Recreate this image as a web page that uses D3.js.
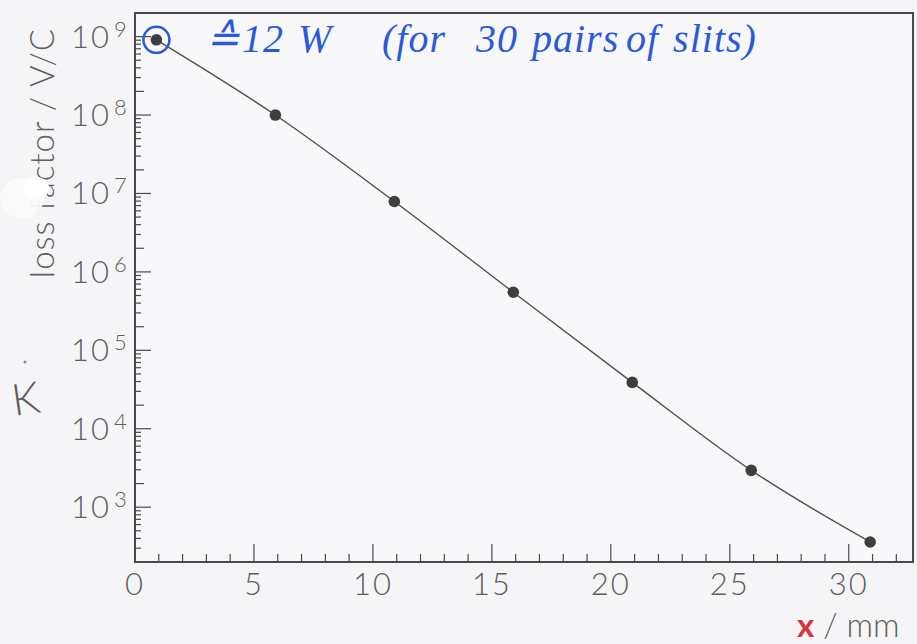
<!DOCTYPE html>
<html>
<head>
<meta charset="utf-8">
<script src="https://cdn.jsdelivr.net/npm/d3@7"></script>
<style>
  body { margin: 0; background: #f5f4f7; }
  svg { display: block; }
  .lbl { font-family: Lato, "Open Sans", sans-serif; font-weight: 300; fill: #5e5e5e; }
  .hand { font-family: "Liberation Serif", serif; font-style: italic; }
</style>
</head>
<body>
<div id="chart"></div>
<script>
  // measured points (x in mm, loss factor in V/C)
  var xs = [0.9, 5.9, 10.9, 15.9, 20.9, 25.9, 30.9];
  var kVals = [9.1e8, 1.0e8, 7.9e6, 5.5e5, 3.9e4, 2.95e3, 360];

  var xTickLabels = [0, 5, 10, 15, 20, 25, 30];
  var yDecades = [3, 4, 5, 6, 7, 8, 9];

(function() {
  'use strict';

  var W = 917, H = 644;
  // plot box edges
  var pL = 135, pR = 913, pT = 13, pB = 562;

  var svg = d3.select('#chart').append('svg')
    .attr('width', W)
    .attr('height', H);

  svg.append('rect')
    .attr('width', W).attr('height', H)
    .attr('fill', '#f5f4f7');

  var x = d3.scaleLinear().domain([0, 32.7]).range([pL, pR]);
  var y = d3.scaleLog().domain([200, 2e9]).range([pB, pT]);

  // frame
  svg.append('rect')
    .attr('x', pL).attr('y', pT)
    .attr('width', pR - pL).attr('height', pB - pT)
    .attr('fill', '#f8f7fa')
    .attr('stroke', '#4a4a4a')
    .attr('stroke-width', 2);

  // x ticks - minor every mm, major every 5 mm
  var g = svg.append('g').attr('stroke', '#4a4a4a').attr('stroke-width', 1.2);
  d3.range(1, 33).forEach(function(v) {
    var len = v % 5 === 0 ? 18 : 8;
    g.append('line')
      .attr('x1', x(v)).attr('x2', x(v))
      .attr('y1', pB).attr('y2', pB - len);
  });

  // y ticks - log decades with minor ticks 2..9
  y.ticks(80).forEach(function(v) {
    var m = Math.round(v / Math.pow(10, Math.floor(Math.log10(v) + 1e-9)));
    var len = m === 1 ? 16 : (m === 2 ? 9 : 6);
    g.append('line')
      .attr('x1', pL).attr('x2', pL + len)
      .attr('y1', y(v)).attr('y2', y(v));
  });

  // x tick labels
  svg.selectAll('.xl').data(xTickLabels).enter().append('text')
    .attr('class', 'lbl')
    .attr('x', function(d) { return x(d); })
    .attr('y', 595)
    .attr('text-anchor', 'middle')
    .attr('font-size', 31)
    .attr('letter-spacing', 2)
    .text(function(d) { return d; });

  // y tick labels 10^n
  var yl = svg.selectAll('.yl').data(yDecades).enter().append('text')
    .attr('class', 'lbl')
    .attr('x', 71)
    .attr('y', function(d) { return y(Math.pow(10, d)) + 11; })
    .attr('font-size', 31)
    .attr('letter-spacing', 2);
  yl.append('tspan').text('10');
  yl.append('tspan').attr('dx', 3).attr('dy', -11).attr('font-size', 22)
    .text(function(d) { return d; });

  // y axis title
  svg.append('text')
    .attr('class', 'lbl')
    .attr('transform', 'translate(54,153) rotate(-90)')
    .attr('text-anchor', 'middle')
    .attr('font-size', 33)
    .attr('letter-spacing', 1)
    .text('loss factor / V/C');

  // the white smudge over the title
  svg.append('ellipse')
    .attr('cx', 22).attr('cy', 198).attr('rx', 22).attr('ry', 20)
    .attr('fill', '#fbfbfb').attr('opacity', 0.95);
  svg.append('ellipse')
    .attr('cx', 36).attr('cy', 188).attr('rx', 13).attr('ry', 11)
    .attr('fill', '#ffffff');

  // x axis title
  var xt = svg.append('text')
    .attr('class', 'lbl')
    .attr('x', 797).attr('y', 637)
    .attr('font-size', 33);
  xt.append('tspan').attr('fill', '#d8323a').attr('font-weight', 700).text('x');
  xt.append('tspan').text(' / mm');

  // curve through the points (interpolated in log space by the log scale)
  var pts = xs.map(function(d, i) { return [d, kVals[i]]; });
  var line = d3.line()
    .x(function(d) { return x(d[0]); })
    .y(function(d) { return y(d[1]); })
    .curve(d3.curveMonotoneX);

  svg.append('path')
    .datum(pts)
    .attr('d', line)
    .attr('fill', 'none')
    .attr('stroke', '#505050')
    .attr('stroke-width', 1.4);

  svg.selectAll('.pt').data(pts).enter().append('circle')
    .attr('cx', function(d) { return x(d[0]); })
    .attr('cy', function(d) { return y(d[1]); })
    .attr('r', 5.8)
    .attr('fill', '#3e3e3e');

  // handwritten notes
  svg.append('circle')
    .attr('cx', x(xs[0])).attr('cy', y(kVals[0]))
    .attr('r', 13)
    .attr('fill', 'none')
    .attr('stroke', '#2a5ad8')
    .attr('stroke-width', 2.5);

  var note = [['\u2259', 206], ['12 W', 242], ['(for', 382], ['30 pairs', 476], ['of slits)', 626]];
  svg.selectAll('.note').data(note).enter().append('text')
    .attr('class', 'hand')
    .attr('x', function(d) { return d[1]; })
    .attr('y', 52)
    .attr('font-size', 40)
    .attr('letter-spacing', 1)
    .attr('word-spacing', 3)
    .attr('fill', '#2a5ad8')
    .text(function(d) { return d[0]; });

  svg.append('text')
    .attr('class', 'lbl')
    .attr('transform', 'translate(14,416) rotate(-8)')
    .attr('font-size', 44)
    .attr('fill', '#7a7a7a')
    .text('K');
  svg.append('circle')
    .attr('cx', 25).attr('cy', 362).attr('r', 1.5)
    .attr('fill', '#8a8a8a');
}());
</script>
</body>
</html>
